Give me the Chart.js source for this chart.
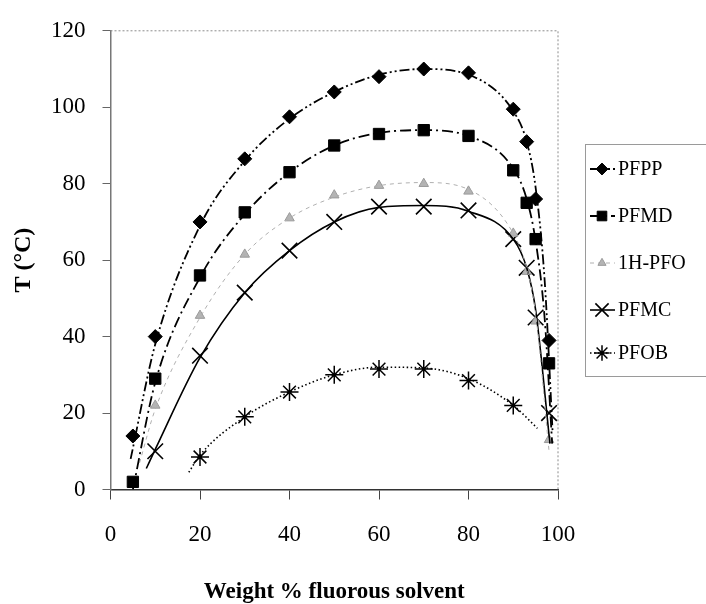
<!DOCTYPE html>
<html>
<head>
<meta charset="utf-8">
<script src="https://cdn.jsdelivr.net/npm/chart.js@4.4.1/dist/chart.umd.min.js"></script>
<style>
  html, body { margin: 0; padding: 0; background: #fff; }
  #wrap { width: 706px; height: 604px; }
</style>
</head>
<body>
<div id="wrap"><canvas id="phaseChart" width="706" height="604"></canvas></div>
<script>
// Values: T (°C) vs weight % fluorous solvent

// measured points
const pfppX = [5, 10, 20, 30, 40, 50, 60, 70, 80, 90, 93, 95, 98];
const pfppT = [14, 40, 70, 86.5, 97.5, 104, 108, 110, 109, 99.5, 91, 76, 39];
const pfmdX = [5, 10, 20, 30, 40, 50, 60, 70, 80, 90, 93, 95, 98];
const pfmdT = [2, 29, 56, 72.5, 83, 90, 93, 94, 92.5, 83.5, 75, 65.5, 33];
const hpfoX = [10, 20, 30, 40, 50, 60, 70, 80, 90, 93, 95, 98];
const hpfoT = [22, 45.5, 61.5, 71, 77, 79.5, 80, 78, 67, 57, 44, 13];
const pfmcX = [10, 20, 30, 40, 50, 60, 70, 80, 90, 93, 95, 98];
const pfmcT = [10, 35, 51.5, 62.5, 70, 74, 74, 73, 65.5, 58, 45, 20];
const pfobX = [20, 30, 40, 50, 60, 70, 80, 90];
const pfobT = [8.5, 19, 25.5, 30, 31.5, 31.5, 28.5, 22];

// trend curves
const pfppFitX = [4.5, 10, 20, 30, 40, 50, 60, 70, 80, 90, 93, 95, 97, 98.8];
const pfppFitT = [8, 38, 69, 86, 97, 104, 108.5, 110, 108.5, 99, 91, 79, 55, 15];
const pfmdFitX = [5, 10, 20, 30, 40, 50, 60, 70, 80, 90, 93, 95, 97, 98.7];
const pfmdFitT = [0, 28, 55.5, 72, 83, 90, 93.3, 94, 92.5, 84, 76, 65, 45, 12];
const hpfoFitX = [6.5, 10, 20, 30, 40, 50, 60, 70, 80, 90, 93, 95, 98];
const hpfoFitT = [7, 21, 45, 61.5, 71, 76.5, 79.5, 80.3, 78.5, 67, 58, 46, 10];
const pfmcFitX = [8, 10, 20, 30, 40, 50, 60, 70, 80, 90, 93, 95, 98.2];
const pfmcFitT = [5.5, 10.5, 34.5, 51.5, 62.5, 70, 73.8, 74.3, 72.8, 65.5, 58, 47, 12];
const pfobFitX = [17.5, 20, 30, 40, 50, 60, 70, 80, 90, 95.4];
const pfobFitT = [4.5, 9, 19, 25.5, 30, 32, 31.8, 29, 22, 16];

const seriesNames = ["PFPP", "PFMD", "1H-PFO", "PFMC", "PFOB"];
const xTicks = [0, 20, 40, 60, 80, 100];
const yTicks = [0, 20, 40, 60, 80, 100, 120];

const SERIF = "'Liberation Serif', 'Times New Roman', serif";

function pts(xs, ys) {
  return xs.map((x, i) => ({ x: x, y: ys[i] }));
}

function markers(name, xs, ys, style) {
  return Object.assign({
    label: name,
    data: pts(xs, ys),
    showLine: false,
    clip: false,
    pointBorderColor: "#000",
    pointBackgroundColor: "#000",
  }, style);
}

function curve(name, xs, ys, style) {
  return Object.assign({
    label: name + " fit",
    data: pts(xs, ys),
    showLine: true,
    pointRadius: 0,
    pointHoverRadius: 0,
    cubicInterpolationMode: "monotone",
    borderColor: "#000",
    borderWidth: 1.6,
    fill: false,
  }, style);
}

const markerSets = [
  markers(seriesNames[0], pfppX, pfppT, { pointStyle: "rectRot", pointRadius: 7, pointBorderWidth: 1 }),
  markers(seriesNames[1], pfmdX, pfmdT, { pointStyle: "rect", pointRadius: 8, pointBorderWidth: 1 }),
  markers(seriesNames[2], hpfoX, hpfoT, { pointStyle: "triangle", pointRadius: 5.5, pointBorderWidth: 1,
    pointBorderColor: "#9a9a9a", pointBackgroundColor: "#b4b4b4" }),
  markers(seriesNames[3], pfmcX, pfmcT, { pointStyle: "crossRot", pointRadius: 11, pointBorderWidth: 1.6 }),
  markers(seriesNames[4], pfobX, pfobT, { pointStyle: "star", pointRadius: 9, pointBorderWidth: 1.5 }),
];

const curveSets = [
  curve(seriesNames[0], pfppFitX, pfppFitT, { borderDash: [10, 3, 2, 3, 2, 3], borderWidth: 1.8 }),
  curve(seriesNames[1], pfmdFitX, pfmdFitT, { borderDash: [11, 4, 2, 4], borderWidth: 1.8 }),
  curve(seriesNames[2], hpfoFitX, hpfoFitT, { borderDash: [4, 4], borderWidth: 1, borderColor: "#b0b0b0" }),
  curve(seriesNames[3], pfmcFitX, pfmcFitT, { borderWidth: 1.6 }),
  curve(seriesNames[4], pfobFitX, pfobFitT, { borderDash: [1.5, 2.5], borderWidth: 1.6 }),
];

// dotted frame on top/right + boxed legend to the right of the plot
const frameAndLegend = {
  id: "frameAndLegend",
  beforeDatasetsDraw(chart) {
    const { ctx, chartArea: a } = chart;
    ctx.save();
    ctx.strokeStyle = "#8c8c8c";
    ctx.lineWidth = 1;
    ctx.setLineDash([2, 2]);
    ctx.beginPath();
    ctx.moveTo(a.left, a.top);
    ctx.lineTo(a.right, a.top);
    ctx.lineTo(a.right, a.bottom);
    ctx.stroke();
    ctx.restore();
  },
  afterDraw(chart) {
    const ctx = chart.ctx;
    const boxLeft = 585, boxTop = 144, boxBottom = 376;
    const rows = [169, 216, 263, 310, 353];
    ctx.save();
    ctx.strokeStyle = "#9a9a9a";
    ctx.lineWidth = 1;
    ctx.setLineDash([]);
    ctx.strokeRect(boxLeft + 0.5, boxTop + 0.5, 706 - boxLeft + 5, boxBottom - boxTop);

    seriesNames.forEach((name, i) => {
      const y = rows[i];
      const line = curveSets[i];
      const mk = markerSets[i];
      ctx.save();
      ctx.strokeStyle = line.borderColor;
      ctx.lineWidth = line.borderWidth;
      ctx.setLineDash(line.borderDash || []);
      ctx.beginPath();
      ctx.moveTo(590, y);
      ctx.lineTo(615, y);
      ctx.stroke();
      ctx.setLineDash([]);
      ctx.fillStyle = mk.pointBackgroundColor;
      ctx.strokeStyle = mk.pointBorderColor;
      ctx.lineWidth = mk.pointBorderWidth;
      Chart.helpers.drawPoint(ctx, {
        pointStyle: mk.pointStyle,
        radius: mk.pointRadius * 0.85,
        borderWidth: mk.pointBorderWidth,
        rotation: 0,
      }, 602, y);
      ctx.restore();

      ctx.fillStyle = "#000";
      ctx.font = "20px " + SERIF;
      ctx.textAlign = "left";
      ctx.textBaseline = "middle";
      ctx.fillText(name, 618, y + 1);
    });
    ctx.restore();
  },
};

new Chart(document.getElementById("phaseChart"), {
  type: "scatter",
  data: { datasets: curveSets.concat(markerSets) },
  options: {
    responsive: false,
    animation: false,
    events: [],
    layout: { padding: { top: 25, right: 148, bottom: 0, left: 0 } },
    plugins: {
      legend: { display: false },
      tooltip: { enabled: false },
    },
    scales: {
      x: {
        type: "linear",
        min: 0,
        max: 100,
        afterBuildTicks: s => { s.ticks = xTicks.map(v => ({ value: v })); },
        afterFit: s => { s.height = 114.5; },
        grid: { drawOnChartArea: false, drawTicks: true, tickLength: 10, color: "#444", lineWidth: 1 },
        border: { display: true, color: "#333", width: 1.5 },
        ticks: { color: "#000", padding: 22, maxRotation: 0, font: { family: SERIF, size: 23 } },
        title: {
          display: true,
          text: "Weight % fluorous solvent",
          color: "#000",
          padding: { top: 0, bottom: 0 },
          font: { family: SERIF, size: 23, weight: "bold", lineHeight: 1.0 },
        },
      },
      y: {
        type: "linear",
        min: 0,
        max: 120,
        afterBuildTicks: s => { s.ticks = yTicks.map(v => ({ value: v })); },
        afterFit: s => { s.width = 110.5; },
        grid: { drawOnChartArea: false, drawTicks: true, tickLength: 8, color: "#666", lineWidth: 1 },
        border: { display: true, color: "#777", width: 1.5 },
        ticks: { color: "#000", padding: 17, font: { family: SERIF, size: 23 } },
        title: {
          display: true,
          text: "T (°C)",
          color: "#000",
          padding: { top: 9, bottom: 0 },
          font: { family: SERIF, size: 24, weight: "bold" },
        },
      },
    },
  },
  plugins: [frameAndLegend],
});
</script>
</body>
</html>
